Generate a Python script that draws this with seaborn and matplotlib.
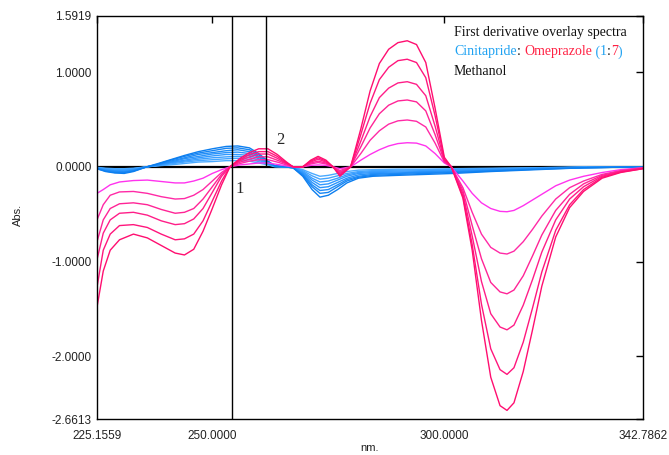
import numpy as np
import pandas as pd
import matplotlib
matplotlib.use("Agg")
import matplotlib.pyplot as plt
import seaborn as sns
from matplotlib.offsetbox import TextArea, HPacker, VPacker, AnnotationBbox

# wavelength grid (nm) for the omeprazole curves
wl_ome = [225.1559, 226.5, 228, 230, 233, 236, 239, 242, 244, 246, 248, 250, 252, 253.8,
          256, 258, 260, 262, 264, 266, 267.4, 269.5, 271.2, 272.8, 274.5, 276, 277.5, 279.8,
          282, 284, 286, 288, 290, 292, 294, 296, 298, 300, 301.5,
          304, 306, 308, 310, 312, 313.5, 315, 317, 319, 321, 324, 327, 330, 334, 338, 342.7862]

ome_1 = [-0.28, -0.24, -0.19, -0.16, -0.145, -0.14, -0.155, -0.17, -0.17, -0.15, -0.12, -0.07, -0.03, 0.0,
         0.02, 0.03, 0.04, 0.04, 0.025, 0.01, 0.0, 0.0, 0.015, 0.02, 0.015, 0.0, -0.02, 0.0,
         0.07, 0.13, 0.18, 0.22, 0.245, 0.254, 0.25, 0.22, 0.14, 0.04, 0.0,
         -0.15, -0.28, -0.38, -0.44, -0.47, -0.474, -0.46, -0.41, -0.35, -0.29, -0.20, -0.14, -0.10, -0.06, -0.03, -0.01]
ome_2 = [-0.56, -0.40, -0.30, -0.265, -0.26, -0.28, -0.315, -0.34, -0.335, -0.30, -0.24, -0.15, -0.06, 0.0,
         0.035, 0.06, 0.075, 0.075, 0.05, 0.02, 0.0, 0.0, 0.03, 0.045, 0.03, 0.0, -0.04, 0.0,
         0.14, 0.28, 0.38, 0.45, 0.485, 0.494, 0.48, 0.42, 0.25, 0.05, 0.0,
         -0.22, -0.48, -0.71, -0.85, -0.91, -0.92, -0.89, -0.79, -0.66, -0.52, -0.34, -0.22, -0.15, -0.08, -0.04, -0.01]
ome_3 = [-0.79, -0.56, -0.44, -0.39, -0.38, -0.40, -0.45, -0.49, -0.48, -0.44, -0.34, -0.21, -0.08, 0.0,
         0.05, 0.08, 0.105, 0.105, 0.07, 0.03, 0.0, 0.0, 0.04, 0.06, 0.04, 0.0, -0.055, 0.0,
         0.21, 0.41, 0.56, 0.65, 0.695, 0.705, 0.685, 0.59, 0.34, 0.06, 0.0,
         -0.25, -0.62, -0.97, -1.22, -1.32, -1.34, -1.30, -1.15, -0.94, -0.72, -0.46, -0.29, -0.18, -0.09, -0.045, -0.015]
ome_4 = [-0.98, -0.70, -0.56, -0.49, -0.48, -0.51, -0.57, -0.61, -0.60, -0.55, -0.44, -0.27, -0.10, 0.0,
         0.065, 0.105, 0.135, 0.135, 0.09, 0.035, 0.0, 0.0, 0.05, 0.08, 0.05, 0.0, -0.07, 0.0,
         0.27, 0.53, 0.73, 0.83, 0.885, 0.898, 0.87, 0.75, 0.43, 0.07, 0.0,
         -0.28, -0.73, -1.21, -1.55, -1.69, -1.72, -1.67, -1.46, -1.19, -0.90, -0.56, -0.34, -0.21, -0.10, -0.05, -0.015]
ome_5 = [-1.27, -0.88, -0.71, -0.62, -0.61, -0.64, -0.71, -0.77, -0.76, -0.71, -0.57, -0.36, -0.15, 0.0,
         0.075, 0.13, 0.16, 0.16, 0.11, 0.04, 0.0, 0.0, 0.06, 0.095, 0.06, 0.0, -0.085, 0.0,
         0.34, 0.67, 0.92, 1.05, 1.12, 1.135, 1.10, 0.94, 0.54, 0.08, 0.0,
         -0.31, -0.82, -1.45, -1.92, -2.14, -2.19, -2.12, -1.85, -1.49, -1.11, -0.67, -0.40, -0.24, -0.11, -0.055, -0.02]
ome_6 = [-1.48, -1.10, -0.88, -0.77, -0.71, -0.75, -0.83, -0.91, -0.93, -0.87, -0.68, -0.44, -0.19, 0.0,
         0.09, 0.15, 0.19, 0.19, 0.13, 0.05, 0.0, 0.0, 0.07, 0.11, 0.07, 0.0, -0.10, 0.0,
         0.40, 0.80, 1.09, 1.24, 1.31, 1.33, 1.29, 1.10, 0.62, 0.10, 0.0,
         -0.33, -0.88, -1.62, -2.22, -2.52, -2.57, -2.49, -2.16, -1.72, -1.26, -0.74, -0.43, -0.26, -0.12, -0.06, -0.02]

# wavelength grid (nm) for the cinitapride curves
wl_cin = [225.1559, 227, 229, 231, 233, 235.9, 238, 241, 244, 247, 250, 253, 255.5, 258, 260, 262,
          263.5, 265.5, 267.4, 269.5, 271.5, 273.2, 275, 277, 279, 281.5, 284.6, 290, 296, 302,
          310, 320, 330, 342.7862]

cin_1 = [-0.005, -0.015, -0.02, -0.02, -0.015, 0.0, 0.01, 0.02, 0.035, 0.05, 0.055, 0.065, 0.065, 0.06, 0.04, 0.02,
         0.0, 0.0, -0.005, -0.03, -0.07, -0.10, -0.09, -0.07, -0.05, -0.035, -0.03, -0.025, -0.025, -0.02,
         -0.015, -0.01, 0.0, 0.0]
cin_2 = [-0.01, -0.02, -0.025, -0.03, -0.02, 0.0, 0.01, 0.03, 0.05, 0.065, 0.075, 0.085, 0.09, 0.08, 0.055, 0.025,
         0.005, 0.0, -0.005, -0.04, -0.095, -0.13, -0.12, -0.095, -0.07, -0.05, -0.04, -0.035, -0.03, -0.03,
         -0.02, -0.01, -0.005, 0.0]
cin_3 = [-0.01, -0.025, -0.035, -0.035, -0.025, 0.0, 0.015, 0.04, 0.06, 0.08, 0.095, 0.105, 0.11, 0.10, 0.07, 0.03,
         0.005, 0.0, -0.005, -0.05, -0.12, -0.16, -0.15, -0.12, -0.085, -0.06, -0.05, -0.045, -0.04, -0.035,
         -0.025, -0.015, -0.005, 0.0]
cin_4 = [-0.01, -0.03, -0.04, -0.04, -0.03, 0.0, 0.015, 0.045, 0.07, 0.095, 0.115, 0.13, 0.13, 0.12, 0.085, 0.035,
         0.005, 0.0, -0.005, -0.06, -0.14, -0.19, -0.18, -0.14, -0.10, -0.07, -0.06, -0.055, -0.05, -0.04,
         -0.03, -0.015, -0.005, 0.0]
cin_5 = [-0.015, -0.035, -0.045, -0.05, -0.035, 0.0, 0.02, 0.05, 0.085, 0.11, 0.135, 0.15, 0.155, 0.14, 0.10, 0.04,
         0.01, 0.0, -0.01, -0.07, -0.165, -0.22, -0.21, -0.165, -0.12, -0.085, -0.07, -0.065, -0.055, -0.05,
         -0.035, -0.02, -0.01, 0.0]
cin_6 = [-0.015, -0.04, -0.05, -0.055, -0.04, 0.0, 0.02, 0.06, 0.095, 0.13, 0.15, 0.17, 0.18, 0.16, 0.11, 0.05,
         0.01, 0.0, -0.01, -0.08, -0.19, -0.25, -0.24, -0.19, -0.135, -0.10, -0.08, -0.07, -0.06, -0.055,
         -0.04, -0.02, -0.01, 0.0]
cin_7 = [-0.02, -0.045, -0.06, -0.06, -0.045, 0.0, 0.025, 0.07, 0.11, 0.145, 0.17, 0.195, 0.20, 0.18, 0.125, 0.055,
         0.01, 0.0, -0.01, -0.09, -0.21, -0.28, -0.27, -0.21, -0.15, -0.11, -0.09, -0.08, -0.07, -0.06,
         -0.045, -0.025, -0.01, 0.0]
cin_8 = [-0.02, -0.05, -0.065, -0.07, -0.05, 0.0, 0.03, 0.075, 0.12, 0.16, 0.19, 0.215, 0.22, 0.20, 0.14, 0.06,
         0.01, 0.0, -0.01, -0.10, -0.24, -0.32, -0.30, -0.24, -0.17, -0.12, -0.10, -0.09, -0.08, -0.07,
         -0.05, -0.03, -0.01, 0.0]

# methanol blank (zero line)
wl_blank = [225.1559, 342.7862]
abs_blank = [0.0, 0.0]

# marker lines
line_1_nm = 254.2
line_2_nm = 261.6

x_ticks = [225.1559, 250.0, 300.0, 342.7862]
y_ticks = [1.5919, 1.0, 0.0, -1.0, -2.0, -2.6613]

ome_colors = ["#FF33EE", "#FF2AA6", "#FF2496", "#FF1E88", "#FF167C", "#FF0E70"]
cin_colors = ["#4AAAFF", "#43A5FF", "#3A9FFF", "#3199FF", "#2893FB", "#1F8CF7", "#1685F3", "#0C7EEF"]


def to_long(wl, curves, prefix):
    frames = []
    for i, c in enumerate(curves):
        frames.append(pd.DataFrame({"nm": wl, "Abs": c, "curve": f"{prefix}{i + 1}"}))
    return pd.concat(frames, ignore_index=True)


ome_df = to_long(wl_ome, [ome_1, ome_2, ome_3, ome_4, ome_5, ome_6], "o")
cin_df = to_long(wl_cin, [cin_1, cin_2, cin_3, cin_4, cin_5, cin_6, cin_7, cin_8], "c")
blank_df = pd.DataFrame({"nm": wl_blank, "Abs": abs_blank})

sns.set_style("white")
plt.rcParams["font.family"] = ["Liberation Sans", "DejaVu Sans"]

fig = plt.figure(figsize=(6.69, 4.55), dpi=100)
ax = fig.add_axes([0.145, 0.079, 0.816, 0.886])

sns.lineplot(data=blank_df, x="nm", y="Abs", color="black", linewidth=1.6, ax=ax)
sns.lineplot(data=cin_df, x="nm", y="Abs", hue="curve",
             palette=dict(zip([f"c{i + 1}" for i in range(8)], cin_colors)),
             estimator=None, sort=False, legend=False, linewidth=1.0, ax=ax)
sns.lineplot(data=ome_df, x="nm", y="Abs", hue="curve",
             palette=dict(zip([f"o{i + 1}" for i in range(6)], ome_colors)),
             estimator=None, sort=False, legend=False, linewidth=1.0, ax=ax)

ax.axvline(line_1_nm, color="black", linewidth=1.0)
ax.vlines(line_2_nm, 0, y_ticks[0], color="black", linewidth=1.0)

ax.set_xlim(x_ticks[0], x_ticks[-1])
ax.set_ylim(y_ticks[-1], y_ticks[0])
ax.set_xticks(x_ticks)
ax.set_xticklabels([f"{t:.4f}" for t in x_ticks])
ax.set_yticks(y_ticks)
ax.set_yticklabels([f"{t:.4f}" for t in y_ticks])
ax.tick_params(direction="in", length=5, width=1, top=True, right=True,
               labelsize=8.5, labelcolor="#222222", color="black")
ax.tick_params(axis="x", pad=8)
ax.tick_params(axis="y", pad=4)
for s in ax.spines.values():
    s.set_color("black")
    s.set_linewidth(1.0)
ax.set_xlabel("")
ax.set_ylabel("")

fig.text(18 / 669, 1 - 215 / 455, "Abs.", rotation=90, ha="center", va="center",
         fontsize=8, color="#222222")
fig.text(370 / 669, 1 - 448 / 455, "nm.", ha="center", va="center",
         fontsize=8, color="#222222")

serif = ["Liberation Serif", "DejaVu Serif"]
ax.text(256.0, -0.23, "1", family=serif, fontsize=12, ha="center", va="center")
ax.text(264.6, 0.28, "2", family=serif, fontsize=12, ha="center", va="center")

blue = "#1FA2F2"
red = "#FF2244"
fs = 10


def ta(s, c):
    return TextArea(s, textprops=dict(color=c, fontsize=fs, family=serif))


row1 = HPacker(children=[ta("First derivative overlay spectra", "#111111")], pad=0, sep=0)
row2 = HPacker(children=[ta("Cinitapride", blue), ta(": ", "#111111"), ta("Omeprazole", red),
                         ta(" (", blue), ta("1", blue), ta(":", "#111111"), ta("7", red),
                         ta(")", blue)], align="baseline", pad=0, sep=0)
row3 = HPacker(children=[ta("Methanol", "#111111")], pad=0, sep=0)
box = VPacker(children=[row1, row2, row3], align="left", pad=0, sep=4.5)
ab = AnnotationBbox(box, ((454 - 97) / 546, (419 - 26) / 403), xycoords="axes fraction",
                    box_alignment=(0, 1), frameon=False, pad=0)
ax.add_artist(ab)

fig.savefig("out.png", dpi=100)
